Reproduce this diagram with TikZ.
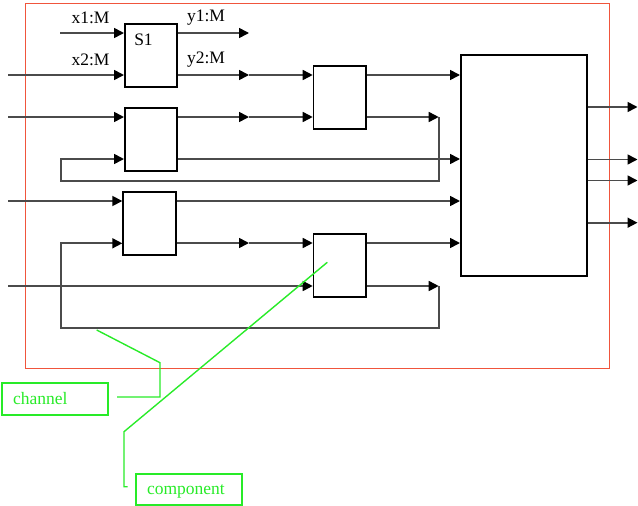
\documentclass[tikz,border=0pt]{standalone}
\usepackage{fontspec}
\setmainfont{Liberation Serif}
\usetikzlibrary{arrows.meta,calc}
\definecolor{conncol}{RGB}{75,75,75}
\definecolor{framecol}{RGB}{240,85,60}
\definecolor{notecol}{RGB}{40,235,40}
\begin{document}
\begin{tikzpicture}[x=1pt,y=-1pt,
  every node/.style={font=\fontsize{17.5}{21}\selectfont},
  blockbox/.style={draw=black,line width=1.5pt,inner sep=0pt,anchor=north west,fill=white},
  wire/.style={draw=conncol,line width=1.7pt},
  arr/.style={wire,-{Triangle[length=10pt,width=10pt,color=black]}},
  notebox/.style={draw=notecol,line width=1.6pt,text=notecol,minimum width=106pt,minimum height=32pt,text width=84pt,inner xsep=11pt,align=left},
  noteline/.style={draw=notecol,line width=1.4pt},
  lbl/.style={inner sep=0pt}]
\useasboundingbox (0,0) rectangle (638,506);
% frame
\draw[draw=framecol,line width=1.4pt] (25.7,3.7) rectangle (609.7,368.3);
% blocks
\node[blockbox,minimum width=52.3pt,minimum height=62.7pt] (S1) at (124,23.3) {};
\node[lbl] (s1lbl) at (143.5,40) {S1};
\node[blockbox,minimum width=52.3pt,minimum height=63pt] (A) at (124,107.3) {};
\node[blockbox,minimum width=52.6pt,minimum height=63pt] (B) at (312.7,65) {};
\node[blockbox,minimum width=52.7pt,minimum height=63.3pt] (C) at (122.3,191) {};
\node[blockbox,minimum width=52.6pt,minimum height=63.3pt] (D) at (312.7,233) {};
\node[blockbox,minimum width=126pt,minimum height=221pt] (Big) at (460,54) {};
% labels
\node[lbl] (x1l) at (90.5,17.5) {x1:M};
\node[lbl] (x2l) at (90.5,60) {x2:M};
\node[lbl] (y1l) at (206,17.5) {y1:M};
\node[lbl] (y2l) at (206,60) {y2:M};
% coordinates
\coordinate (x1in) at (60,33);
\coordinate (x2in) at (8.3,75);
\coordinate (y1out) at (249,33);
\coordinate (m1) at (249,75);
\coordinate (ain) at (8.3,117);
\coordinate (m2) at (249,117);
\coordinate (r1t) at (438.7,117);
\coordinate (r1b) at (438.7,181);
\coordinate (l1b) at (60.7,181);
\coordinate (l1t) at (60.7,159);
\coordinate (cin) at (8.3,201);
\coordinate (m3) at (249,243);
\coordinate (din) at (8.3,286);
\coordinate (r2t) at (438.7,286);
\coordinate (r2b) at (438.7,327.7);
\coordinate (l2b) at (60.7,327.7);
\coordinate (l2t) at (60.7,243.3);
\coordinate (o1) at (637.5,107);
\coordinate (o2) at (637.5,159.5);
\coordinate (o3) at (637.5,180.5);
\coordinate (o4) at (637.5,222.7);
% S1
\draw[arr] (x1in) -- (x1in -| S1.west);
\draw[arr] (x2in) -- (x2in -| S1.west);
\draw[arr] (y1out -| S1.east) -- (y1out);
\draw[arr] (m1 -| S1.east) -- (m1);
\draw[arr] (m1) -- (m1 -| B.west);
% A
\draw[arr] (ain) -- (ain -| A.west);
\draw[arr] (m2 -| A.east) -- (m2);
\draw[arr] (m2) -- (m2 -| B.west);
\draw[arr] (l1t -| A.east) -- (l1t -| Big.west);
% B
\draw[arr] (m1 -| B.east) -- (m1 -| Big.west);
\draw[arr] (r1t -| B.east) -- (r1t);
\draw[arr] (r1t) -- (r1b) -- (l1b) -- (l1t) -- (l1t -| A.west);
% C
\draw[arr] (cin) -- (cin -| C.west);
\draw[arr] (cin -| C.east) -- (cin -| Big.west);
\draw[arr] (m3 -| C.east) -- (m3);
\draw[arr] (m3) -- (m3 -| D.west);
% D
\draw[arr] (din) -- (din -| D.west);
\draw[arr] (m3 -| D.east) -- (m3 -| Big.west);
\draw[arr] (r2t -| D.east) -- (r2t);
\draw[arr] (r2t) -- (r2b) -- (l2b) -- (l2t) -- (l2t -| C.west);
% Big outputs
\draw[arr] (o1 -| Big.east) -- (o1);
\draw[arr] (o2 -| Big.east) -- (o2);
\draw[arr] (o3 -| Big.east) -- (o3);
\draw[arr] (o4 -| Big.east) -- (o4);
% notes
\node[notebox] (chan) at (55,399) {channel};
\node[notebox,minimum height=31pt,text depth=0pt] (comp) at (189,489.5) {component};
\coordinate (ch1) at (96.7,330);
\coordinate (ch2) at (160,362.7);
\coordinate (ch3) at (160,397);
\coordinate (ch4) at (117,397);
\draw[noteline] (ch1) -- (ch2) -- (ch3) -- (ch4);
\coordinate (cp1) at (327.3,262.3);
\coordinate (cp2) at (124,431.7);
\coordinate (cp3) at (124,486.7);
\coordinate (cp4) at (127.7,486.7);
\draw[noteline] (cp1) -- (cp2) -- (cp3) -- (cp4);
\end{tikzpicture}
\end{document}
